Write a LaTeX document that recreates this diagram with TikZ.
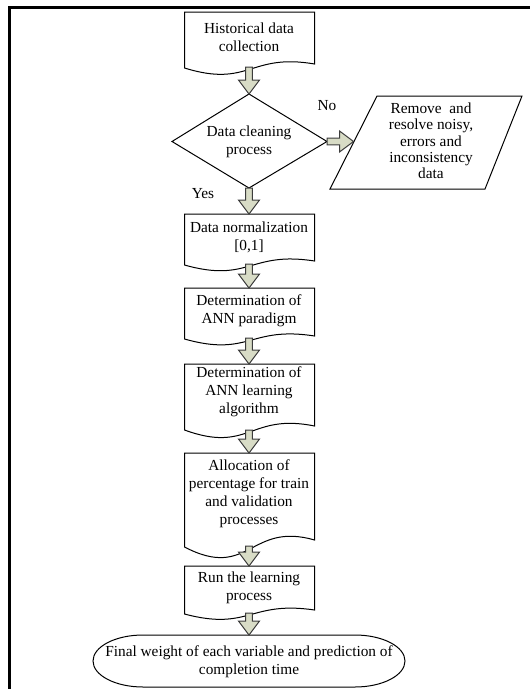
\documentclass[tikz,border=0pt]{standalone}
\usepackage{fontspec}
\setmainfont{Liberation Serif}
\usetikzlibrary{calc}
\definecolor{arrowfill}{RGB}{216,220,198}
\definecolor{arrowline}{RGB}{60,60,60}
\tikzset{
  boxline/.style={draw=black, line width=0.75pt, fill=white},
  frameline/.style={draw=black, line width=2.25pt},
  blockarrow/.style={draw=arrowline, line width=0.75pt, fill=arrowfill, line join=miter},
  txt/.style={align=center, inner sep=0pt, font=\fontsize{11.5}{13.6}\selectfont},
  ptxt/.style={align=center, inner sep=0pt, font=\fontsize{11.5}{12.2}\selectfont},
}
% document shape: args: x1, top, x2, yL, yR
\newcommand\docbox[5]{%
  \pgfmathsetmacro\dH{#4-#2}%
  \pgfmathsetmacro\da{#5-0.2*\dH}%
  \pgfmathsetmacro\db{#4+0.36*\dH}%
  \pgfmathsetmacro\dm{(#1+#3)/2}%
  \draw[boxline] (#1,#4) -- (#1,#2) -- (#3,#2) -- (#3,#5)
    .. controls (\dm,\da) and (\dm,\db) .. (#1,#4) -- cycle;}
% block arrows between named coordinates
\newcommand\blockdown[2]{%
  \path[blockarrow] let \p1=(#1), \p2=(#2) in
    (\x1-2.6pt,\y1) -- (\x1-2.6pt,\y2+10.5pt) -- (\x1-7.9pt,\y2+10.5pt) -- (\x1,\y2)
    -- (\x1+7.9pt,\y2+10.5pt) -- (\x1+2.6pt,\y2+10.5pt) -- (\x1+2.6pt,\y1) -- cycle;}
\newcommand\blockright[2]{%
  \path[blockarrow] let \p1=(#1), \p2=(#2) in
    (\x1,\y1+2.6pt) -- (\x2-10.5pt,\y1+2.6pt) -- (\x2-10.5pt,\y1+7.9pt) -- (\x2,\y1)
    -- (\x2-10.5pt,\y1-7.9pt) -- (\x2-10.5pt,\y1-2.6pt) -- (\x1,\y1-2.6pt) -- cycle;}
\begin{document}
\begin{tikzpicture}[x=0.75pt, y=-0.75pt]
\useasboundingbox (0,0) rectangle (529,689);
% frame
\draw[frameline] (9.5,690) -- (9.5,7.5) -- (530,7.5);

% document boxes
\docbox{184.5}{12}{314.5}{68}{64}
\docbox{184.5}{214}{314.5}{265}{261}
\docbox{184.5}{288}{314.5}{339}{336}
\docbox{184.5}{364}{314.5}{430}{426}
\docbox{184.5}{453}{314.5}{547}{540}
\docbox{184.5}{566}{314.5}{614}{610}

% decision diamond
\coordinate (dtop) at (249,94);
\coordinate (dbot) at (249,188);
\coordinate (dleft) at (172,141.5);
\coordinate (dright) at (327,141.5);
\draw[boxline] (dtop) -- (dright) -- (dbot) -- (dleft) -- cycle;

% parallelogram
\draw[boxline] (377,96) -- (522,96) -- (485,189) -- (330,189) -- cycle;
\coordinate (pleft) at (353.5,141.5);

% terminator
\draw[boxline] (143,635) -- (355,635)
  arc[start angle=90, end angle=-90, x radius=37.5pt, y radius=19.5pt]
  -- (143,687)
  arc[start angle=270, end angle=90, x radius=37.5pt, y radius=19.5pt] -- cycle;

% texts
\node[txt] (t1) at (249,37) {Historical data\\collection};
\node[txt] (td) at (249,142) {Data cleaning\\process};
\node[ptxt] (tp) at (431,141) {Remove\ \ and\\resolve noisy,\\errors and\\inconsistency\\data};
\node[txt] (t2) at (249,237) {Data normalization\\{[0,1]}};
\node[txt] (t3) at (249,311) {Determination of\\ANN paradigm};
\node[txt] (t4) at (249,392) {Determination of\\ANN learning\\algorithm};
\node[txt] (t5) at (249,494) {Allocation of\\percentage for train\\and validation\\processes};
\node[txt] (t6) at (249,588) {Run the learning\\process};
\node[txt] (tt) at (249,662) {Final weight of each variable and prediction of\\completion time};
\node[txt] (no) at (327,106) {No};
\node[txt] (yes) at (203,194) {Yes};

% connector coordinates
\coordinate (b1b) at (249,67);
\coordinate (b2t) at (249,214);
\coordinate (b2b) at (249,264);
\coordinate (b3t) at (249,288);
\coordinate (b3b) at (249,338);
\coordinate (b4t) at (249,364);
\coordinate (b4b) at (249,430);
\coordinate (b5t) at (249,453);
\coordinate (b5b) at (249,546);
\coordinate (b6t) at (249,566);
\coordinate (b6b) at (249,613);
\coordinate (termt) at (249,635);

% block arrows
\blockdown{b1b}{dtop}
\blockdown{dbot}{b2t}
\blockdown{b2b}{b3t}
\blockdown{b3b}{b4t}
\blockdown{b4b}{b5t}
\blockdown{b5b}{b6t}
\blockdown{b6b}{termt}
\blockright{dright}{pleft}
\end{tikzpicture}
\end{document}
